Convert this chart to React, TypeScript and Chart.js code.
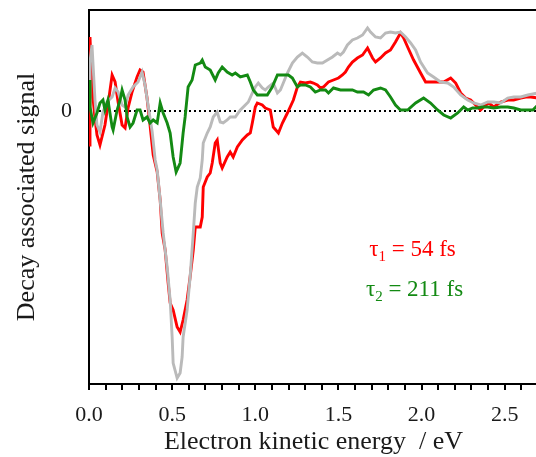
import React, { useEffect, useRef } from "react";
import { Chart, registerables } from "chart.js";

Chart.register(...registerables);

// ---- data (energy in eV, signal in arbitrary units) ----
const redEnergy = [0, 0.006, 0.018, 0.036, 0.048, 0.066, 0.096, 0.114, 0.139, 0.157, 0.175, 0.199, 0.217, 0.235, 0.259, 0.289, 0.307, 0.325, 0.349, 0.367, 0.386, 0.41, 0.428, 0.44, 0.458, 0.476, 0.488, 0.506, 0.53, 0.548, 0.566, 0.59, 0.608, 0.627, 0.639, 0.669, 0.681, 0.687, 0.711, 0.729, 0.741, 0.759, 0.771, 0.789, 0.801, 0.831, 0.849, 0.867, 0.892, 0.922, 0.952, 0.97, 0.982, 1.0, 1.012, 1.042, 1.06, 1.09, 1.108, 1.139, 1.163, 1.193, 1.229, 1.253, 1.271, 1.301, 1.331, 1.349, 1.373, 1.392, 1.41, 1.44, 1.47, 1.5, 1.524, 1.542, 1.56, 1.584, 1.614, 1.645, 1.675, 1.705, 1.723, 1.753, 1.783, 1.813, 1.843, 1.873, 1.892, 1.916, 1.952, 1.994, 2.024, 2.054, 2.096, 2.133, 2.175, 2.205, 2.235, 2.265, 2.295, 2.325, 2.355, 2.386, 2.404, 2.434, 2.476, 2.518, 2.554, 2.596, 2.627, 2.657, 2.699];
const redSignal = [-0.34, 0.74, 0.23, -0.07, -0.24, -0.34, -0.14, 0.06, 0.36, 0.29, 0.09, -0.14, -0.17, 0.03, 0.19, 0.34, 0.41, 0.39, 0.13, -0.14, -0.44, -0.61, -0.89, -1.22, -1.39, -1.72, -1.92, -1.99, -2.16, -2.21, -2.09, -1.89, -1.66, -1.39, -1.16, -1.16, -1.06, -0.76, -0.66, -0.62, -0.52, -0.32, -0.29, -0.52, -0.57, -0.46, -0.41, -0.46, -0.36, -0.29, -0.24, -0.22, -0.12, 0.04, 0.08, 0.06, 0.03, 0.01, -0.16, -0.22, -0.12, -0.02, 0.11, 0.24, 0.29, 0.28, 0.29, 0.28, 0.26, 0.23, 0.24, 0.29, 0.31, 0.33, 0.36, 0.39, 0.44, 0.49, 0.53, 0.56, 0.63, 0.53, 0.49, 0.53, 0.58, 0.61, 0.69, 0.78, 0.73, 0.64, 0.51, 0.38, 0.29, 0.29, 0.29, 0.29, 0.33, 0.28, 0.18, 0.13, 0.11, 0.06, 0.01, 0.06, 0.08, 0.04, 0.09, 0.11, 0.11, 0.13, 0.14, 0.14, 0.13];

const grayEnergy = [0, 0.006, 0.018, 0.036, 0.048, 0.066, 0.084, 0.108, 0.139, 0.157, 0.175, 0.199, 0.217, 0.235, 0.265, 0.295, 0.319, 0.337, 0.355, 0.38, 0.398, 0.41, 0.428, 0.446, 0.47, 0.488, 0.5, 0.506, 0.53, 0.548, 0.56, 0.566, 0.59, 0.608, 0.627, 0.639, 0.651, 0.669, 0.681, 0.687, 0.711, 0.729, 0.747, 0.771, 0.789, 0.807, 0.831, 0.849, 0.88, 0.91, 0.94, 0.958, 0.982, 1.0, 1.018, 1.042, 1.06, 1.078, 1.108, 1.133, 1.151, 1.193, 1.223, 1.253, 1.283, 1.313, 1.343, 1.373, 1.404, 1.434, 1.464, 1.494, 1.512, 1.53, 1.554, 1.584, 1.614, 1.645, 1.675, 1.693, 1.723, 1.753, 1.783, 1.813, 1.843, 1.873, 1.904, 1.934, 1.964, 1.994, 2.036, 2.072, 2.114, 2.157, 2.193, 2.235, 2.277, 2.313, 2.355, 2.398, 2.434, 2.476, 2.518, 2.554, 2.596, 2.639, 2.699];
const graySignal = [0.11, 0.49, 0.66, 0.11, -0.14, -0.21, -0.01, 0.09, 0.14, 0.23, 0.19, 0.06, 0.04, 0.16, 0.24, 0.29, 0.39, 0.26, 0.06, -0.21, -0.49, -0.59, -0.89, -1.22, -1.56, -1.89, -2.26, -2.52, -2.67, -2.62, -2.46, -2.26, -1.99, -1.66, -1.22, -0.92, -0.76, -0.67, -0.49, -0.32, -0.22, -0.16, -0.06, -0.01, -0.11, -0.12, -0.09, -0.06, -0.06, 0.01, 0.06, 0.09, 0.18, 0.24, 0.28, 0.23, 0.21, 0.24, 0.28, 0.18, 0.21, 0.38, 0.48, 0.54, 0.58, 0.54, 0.49, 0.48, 0.48, 0.51, 0.54, 0.58, 0.56, 0.59, 0.66, 0.71, 0.73, 0.76, 0.83, 0.79, 0.74, 0.73, 0.78, 0.79, 0.78, 0.79, 0.74, 0.68, 0.61, 0.49, 0.38, 0.34, 0.29, 0.28, 0.24, 0.16, 0.11, 0.08, 0.06, 0.09, 0.09, 0.08, 0.13, 0.14, 0.14, 0.16, 0.18];

const greenEnergy = [0, 0.006, 0.024, 0.048, 0.066, 0.084, 0.096, 0.114, 0.139, 0.145, 0.169, 0.187, 0.199, 0.217, 0.229, 0.247, 0.265, 0.289, 0.307, 0.325, 0.349, 0.367, 0.386, 0.41, 0.428, 0.446, 0.47, 0.488, 0.506, 0.524, 0.548, 0.566, 0.578, 0.596, 0.62, 0.639, 0.669, 0.681, 0.699, 0.729, 0.759, 0.777, 0.801, 0.831, 0.861, 0.88, 0.91, 0.952, 0.97, 0.988, 1.012, 1.042, 1.072, 1.102, 1.133, 1.169, 1.199, 1.223, 1.253, 1.271, 1.301, 1.331, 1.361, 1.392, 1.422, 1.44, 1.47, 1.512, 1.554, 1.584, 1.614, 1.651, 1.681, 1.711, 1.753, 1.783, 1.813, 1.843, 1.873, 1.916, 1.964, 2.012, 2.054, 2.096, 2.133, 2.175, 2.217, 2.253, 2.277, 2.307, 2.337, 2.367, 2.398, 2.434, 2.476, 2.518, 2.554, 2.596, 2.639, 2.669, 2.699];
const greenSignal = [0.31, 0.04, -0.12, -0.02, 0.08, 0.11, 0.01, 0.11, -0.16, -0.19, 0.01, 0.11, 0.21, 0.11, -0.06, -0.16, -0.12, 0.01, 0.01, -0.09, -0.06, -0.12, -0.09, -0.12, 0.08, -0.02, -0.12, -0.22, -0.46, -0.61, -0.52, -0.22, -0.06, 0.24, 0.31, 0.46, 0.48, 0.51, 0.44, 0.41, 0.31, 0.38, 0.44, 0.39, 0.36, 0.38, 0.34, 0.36, 0.29, 0.21, 0.16, 0.16, 0.16, 0.24, 0.36, 0.36, 0.36, 0.33, 0.24, 0.26, 0.26, 0.24, 0.19, 0.21, 0.21, 0.18, 0.23, 0.21, 0.21, 0.21, 0.19, 0.19, 0.16, 0.21, 0.23, 0.21, 0.14, 0.06, 0.01, 0.01, 0.08, 0.13, 0.08, 0.01, -0.04, -0.07, -0.02, 0.04, 0.01, 0.03, 0.03, 0.04, 0.04, 0.03, 0.04, 0.04, 0.03, 0.01, 0.01, 0.01, 0.06];

const xTickLabels = ["0.0", "0.5", "1.0", "1.5", "2.0", "2.5"];
const yTickLabels = ["0"];
const xTitle = "Electron kinetic energy  / eV";
const yTitle = "Decay associated signal";
const tau1 = { sym: "\u03C4", sub: "1", rest: " = 54 fs" };
const tau2 = { sym: "\u03C4", sub: "2", rest: " = 211 fs" };

// ---- styles / positions ----
const FONT = "'Liberation Serif', 'Times New Roman', serif";
const RED = "#ff0000";
const GREEN = "#138a13";
const GRAY = "#bababa";
const TEXT = "#1a1a1a";
const tau1Pos = { x: 1.685, y: -1.45 };
const tau2Pos = { x: 1.665, y: -1.85 };

const toPts = (xs: number[], ys: number[]) => xs.map((x, i) => ({ x, y: ys[i] }));

const zeroPad = (s: any) => {
  s.paddingTop = 0;
  s.paddingBottom = 0;
  s.paddingLeft = 0;
  s.paddingRight = 0;
};

const decorPlugin = {
  id: "decor",
  beforeDatasetsDraw(chart: any) {
    const { ctx, chartArea, scales } = chart;
    const y0 = scales.y.getPixelForValue(0);
    ctx.save();
    ctx.strokeStyle = "#000";
    ctx.lineWidth = 2;
    ctx.setLineDash([2, 3]);
    ctx.beginPath();
    ctx.moveTo(chartArea.left, y0);
    ctx.lineTo(chartArea.right, y0);
    ctx.stroke();
    ctx.restore();
  },
  afterDraw(chart: any) {
    const { ctx, chartArea, scales } = chart;
    ctx.save();
    ctx.strokeStyle = "#000";
    ctx.lineWidth = 2;
    ctx.beginPath();
    ctx.moveTo(chartArea.left - 1, chartArea.top);
    ctx.lineTo(chartArea.right + 2, chartArea.top);
    ctx.stroke();

    const drawTau = (t: any, pos: any, color: string) => {
      let x = scales.x.getPixelForValue(pos.x);
      const y = scales.y.getPixelForValue(pos.y);
      ctx.fillStyle = color;
      ctx.textBaseline = "alphabetic";
      ctx.textAlign = "left";
      ctx.font = `23px ${FONT}`;
      ctx.fillText(t.sym, x, y);
      x += ctx.measureText(t.sym).width;
      ctx.font = `15px ${FONT}`;
      ctx.fillText(t.sub, x, y + 5);
      x += ctx.measureText(t.sub).width;
      ctx.font = `23px ${FONT}`;
      ctx.fillText(t.rest, x, y);
    };
    drawTau(tau1, tau1Pos, RED);
    drawTau(tau2, tau2Pos, GREEN);
    ctx.restore();
  },
};

export default function App() {
  const ref = useRef<HTMLCanvasElement | null>(null);
  useEffect(() => {
    if (!ref.current) return;
    const chart = new Chart(ref.current, {
      type: "line",
      data: {
        datasets: [
          { label: "green", data: toPts(greenEnergy, greenSignal), borderColor: GREEN, borderWidth: 2.9, pointRadius: 0, tension: 0, order: 0 },
          { label: "gray", data: toPts(grayEnergy, graySignal), borderColor: GRAY, borderWidth: 2.9, pointRadius: 0, tension: 0, order: 1 },
          { label: "red", data: toPts(redEnergy, redSignal), borderColor: RED, borderWidth: 2.9, pointRadius: 0, tension: 0, order: 2 },
        ],
      },
      options: {
        animation: false,
        responsive: false,
        layout: { padding: { top: 10, left: 0, right: 0, bottom: 0 } },
        plugins: { legend: { display: false }, tooltip: { enabled: false } },
        scales: {
          x: {
            type: "linear",
            min: 0,
            max: 2.7,
            border: { display: true, color: "#000", width: 2 },
            grid: { display: true, drawOnChartArea: false, drawTicks: true, tickLength: 6, color: "#000", lineWidth: 2 },
            ticks: {
              stepSize: 0.1,
              includeBounds: false,
              autoSkip: false,
              maxRotation: 0,
              padding: 14,
              color: TEXT,
              font: { family: FONT, size: 22, lineHeight: 1 },
              callback: (v: any) => {
                const idx = Math.round(Number(v) * 10);
                return idx % 5 === 0 && xTickLabels[idx / 5] !== undefined ? xTickLabels[idx / 5] : "";
              },
            },
            title: { display: true, text: xTitle, color: TEXT, font: { family: FONT, size: 26, lineHeight: 1 }, padding: { top: 0, bottom: 2 } },
            afterFit: (s: any) => {
              s.height = 73;
              zeroPad(s);
            },
          },
          y: {
            type: "linear",
            min: -2.73,
            max: 1.01,
            border: { display: true, color: "#000", width: 2 },
            grid: { display: false, drawTicks: false },
            afterBuildTicks: (s: any) => {
              s.ticks = [{ value: 0 }];
            },
            ticks: {
              padding: 17,
              color: TEXT,
              font: { family: FONT, size: 22, lineHeight: 1 },
              callback: (v: any) => (Math.abs(Number(v)) < 1e-9 ? yTickLabels[0] : ""),
            },
            title: { display: true, text: yTitle, color: TEXT, font: { family: FONT, size: 26, lineHeight: 1 }, padding: { top: 14, bottom: 0 } },
            afterFit: (s: any) => {
              s.width = 89;
              zeroPad(s);
            },
          },
        },
      },
      plugins: [decorPlugin],
    } as any);
    return () => chart.destroy();
  }, []);
  return (
    <div style={{ position: "absolute", left: 0, top: 0, width: 536, height: 457, overflow: "hidden", background: "#fff" }}>
      <canvas ref={ref} width={538} height={457} style={{ display: "block" }} />
    </div>
  );
}
